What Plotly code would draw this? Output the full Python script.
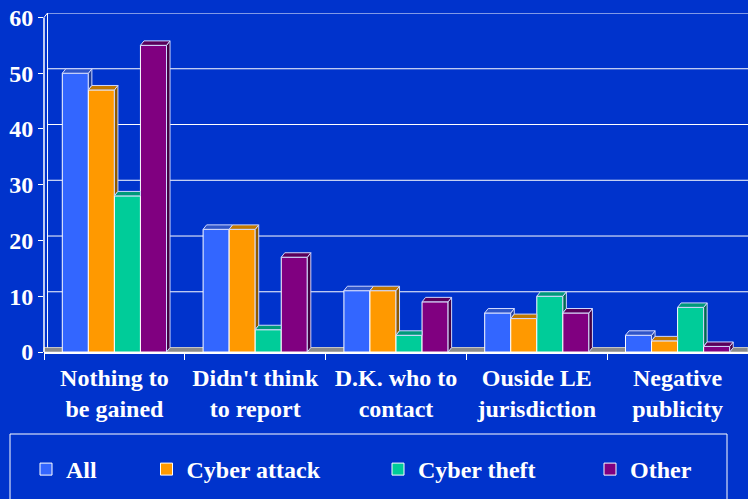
import plotly.graph_objects as go

categories = ["Nothing to<br>be gained", "Didn't think<br>to report", "D.K. who to<br>contact",
              "Ouside LE<br>jurisdiction", "Negative<br>publicity"]
series_names = ["All", "Cyber attack", "Cyber theft", "Other"]
all_vals = [50, 22, 11, 7, 3]
attack_vals = [47, 22, 11, 6, 2]
theft_vals = [28, 4, 3, 10, 8]
other_vals = [55, 17, 9, 7, 1]
y_ticks = [0, 10, 20, 30, 40, 50, 60]

series_values = [all_vals, attack_vals, theft_vals, other_vals]
front_colors = ["#3366ff", "#ff9900", "#00cc99", "#800080"]
top_colors = ["#2f55c8", "#c07800", "#00997a", "#5a005a"]
side_colors = ["#1f3d99", "#8f5a00", "#006b52", "#420042"]

BG = "#0033cc"
FONT = "Liberation Serif"
FS = 24
W, H = 748, 499
ML, MR, MT = 44, 0, 13
MB = H - 352

DX = 0.025   # depth offset in x (category units)
DY = 0.8     # depth offset in y (value units)
BAR_W = 0.185
GROUP_START = -0.37

fig = go.Figure()
n_cat = len(categories)
xs = list(range(n_cat))

legend_ids = ["legend", "legend2", "legend3", "legend4"]

for i, (name, vals) in enumerate(zip(series_names, series_values)):
    fig.add_trace(go.Bar(
        x=xs, y=vals, name=name, width=BAR_W, offset=GROUP_START + i * BAR_W,
        marker=dict(color=front_colors[i], line=dict(color="white", width=1)),
        legend=legend_ids[i], hoverinfo="skip",
    ))

# 3D faces computed from the data
for i, vals in enumerate(series_values):
    tx, ty, sx, sy = [], [], [], []
    for c, v in enumerate(vals):
        x0 = c + GROUP_START + i * BAR_W
        x1 = x0 + BAR_W
        nxt = series_values[i + 1][c] if i + 1 < len(series_values) else 0
        right = x1 + DX if nxt <= v else x1
        tx += [x0, x0 + DX, right, x1, x0, None]
        ty += [v, v + DY, v + DY, v, v, None]
        if nxt < v:
            sx += [x1, x1, x1 + DX, x1 + DX, x1, None]
            sy += [nxt, v, v + DY, nxt + DY, nxt, None]
    fig.add_trace(go.Scatter(x=sx, y=sy, mode="lines", fill="toself",
                             fillcolor=side_colors[i], line=dict(color="#d0d8ff", width=1),
                             showlegend=False, hoverinfo="skip"))
    fig.add_trace(go.Scatter(x=tx, y=ty, mode="lines", fill="toself",
                             fillcolor=top_colors[i], line=dict(color="#d0d8ff", width=1),
                             showlegend=False, hoverinfo="skip"))

shapes = []
shapes.append(dict(type="rect", xref="paper", yref="y", x0=0, x1=1, y0=0, y1=DY,
                   fillcolor="#8a8a8a", line=dict(color="#c8c8c8", width=1), layer="below"))
dx_paper = DX / n_cat
for v in y_ticks[1:]:
    shapes.append(dict(type="line", xref="paper", yref="y", x0=dx_paper, x1=1,
                       y0=v + DY, y1=v + DY, line=dict(color="white", width=1), layer="below"))
shapes.append(dict(type="line", xref="paper", yref="y", x0=dx_paper, x1=dx_paper,
                   y0=DY, y1=y_ticks[-1] + DY, line=dict(color="white", width=1), layer="below"))
shapes.append(dict(type="line", xref="paper", yref="y", x0=0, x1=dx_paper,
                   y0=y_ticks[-1], y1=y_ticks[-1] + DY, line=dict(color="white", width=1), layer="below"))
shapes.append(dict(type="line", xref="paper", yref="y", x0=0, x1=0,
                   y0=0, y1=y_ticks[-1], line=dict(color="white", width=1.5)))

pw = W - ML - MR
ph = H - MT - MB
def px_x(p):  # page pixel -> paper x
    return (p - ML) / pw
def px_y(p):  # page pixel -> paper y
    return (H - MB - p) / ph

shapes.append(dict(type="rect", xref="paper", yref="paper",
                   x0=px_x(10), x1=px_x(727), y0=px_y(434), y1=px_y(515),
                   line=dict(color="white", width=1), fillcolor="rgba(0,0,0,0)"))

legend_lefts = [26, 146.5, 378, 590]
layout_legends = {}
for lid, lx in zip(legend_ids, legend_lefts):
    layout_legends[lid] = dict(
        x=px_x(lx), xanchor="left", y=px_y(469.5), yanchor="middle",
        orientation="h", bgcolor="rgba(0,0,0,0)", borderwidth=0,
        font=dict(family=FONT, size=FS, color="white", weight="bold"),
    )

fig.update_layout(
    width=W, height=H,
    margin=dict(l=ML, r=MR, t=MT, b=MB, autoexpand=False),
    paper_bgcolor=BG, plot_bgcolor=BG,
    font=dict(family=FONT, size=FS, color="white", weight="bold"),
    barmode="overlay",
    shapes=shapes,
    showlegend=True,
    **layout_legends,
)

fig.update_xaxes(
    range=[-0.5, n_cat - 0.5], tickvals=xs, ticktext=categories, ticks="",
    showgrid=False, zeroline=False, showline=True, linecolor="white", linewidth=1.5,
    automargin=False, ticklabelstandoff=3,
    tickfont=dict(family=FONT, size=FS, color="white", weight="bold"),
    minor=dict(tickvals=[c - 0.5 for c in range(n_cat + 1)], ticks="outside",
               ticklen=6, tickcolor="white", tickwidth=1, showgrid=False),
)
fig.update_yaxes(
    range=[0, y_ticks[-1] + DY], tickvals=y_ticks, ticks="outside", ticklen=5,
    tickcolor="white", showgrid=False, zeroline=False, showline=False, automargin=False,
    ticklabeloverflow="allow",
    tickfont=dict(family=FONT, size=FS, color="white", weight="bold"),
)

fig.write_html("out.html", config={"displayModeBar": False},
               post_script="document.body.style.margin='0px';")
